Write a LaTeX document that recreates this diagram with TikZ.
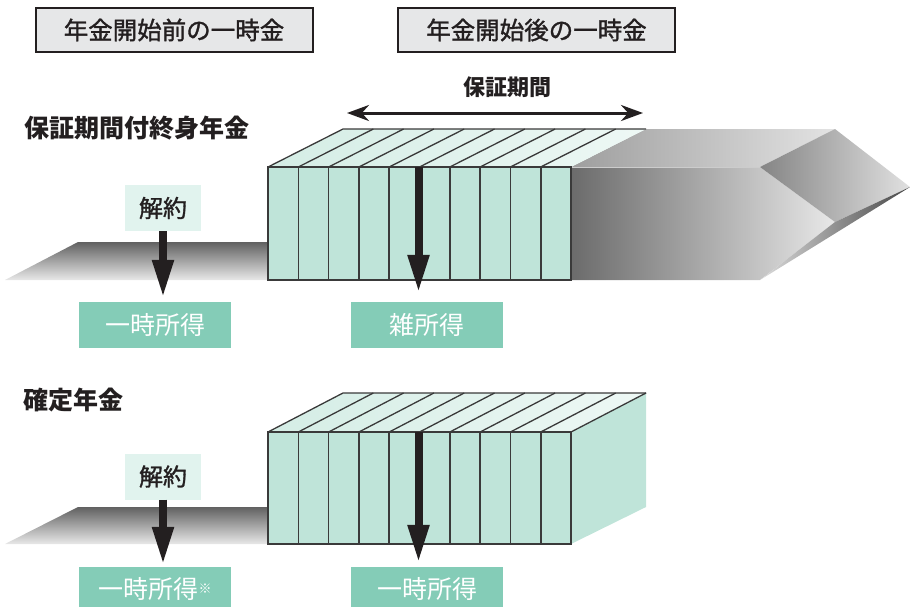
\documentclass[tikz,border=0pt]{standalone}
\usepackage{fontspec}
\setmainfont{Noto Sans CJK JP}
\newfontfamily\jpmed{Noto Sans CJK JP}[FakeBold=1.3]
\usetikzlibrary{arrows.meta}
\definecolor{mint}{HTML}{BFE4D9}
\definecolor{mintlight}{HTML}{E1F3EE}
\definecolor{minttop}{HTML}{D4EDE5}
\definecolor{minttopr}{HTML}{EEF8F5}
\definecolor{teal}{HTML}{84CCB7}
\definecolor{hdrgray}{HTML}{E6E7E8}
\definecolor{ink}{HTML}{231F20}
\definecolor{slabline}{HTML}{3A3A3A}
\tikzset{
  hdrbox/.style={draw=ink, line width=2pt, fill=hdrgray, minimum width=277pt, minimum height=44pt, inner sep=0pt, font=\jpmed\fontsize{24.5}{28}\selectfont, text=ink},
  kaibox/.style={fill=mintlight, minimum width=76pt, minimum height=46pt, inner sep=0pt, font=\jpmed\fontsize{24}{28}\selectfont, text=ink},
  incbox/.style={fill=teal, minimum width=152pt, minimum height=46pt, inner sep=0pt, font=\fontsize{25}{28}\selectfont, text=white},
  ttl/.style={anchor=west, inner sep=0pt, font=\fontsize{25}{28}\selectfont\bfseries, text=ink},
  slab/.style={draw=slabline, line width=1.6pt, fill=mint},
  topline/.style={draw=slabline, line width=1.3pt},
  bigarrow/.style={draw=ink, line width=8pt, -{Triangle[length=38pt,width=20pt]}},
  dblarrow/.style={draw=ink, line width=3pt, {Stealth[length=22pt,width=16pt]}-{Stealth[length=22pt,width=16pt]}},
}
\begin{document}
\begin{tikzpicture}[x=1pt,y=-1pt]
\useasboundingbox (0,0) rectangle (910,606);
\clip (0,0) rectangle (910,606);

% header boxes
\node[hdrbox] (h1) at (174,30) {年金開始前の一時金};
\node[hdrbox] (h2) at (536.5,30) {年金開始後の一時金};

% guarantee period
\node[inner sep=0pt, font=\fontsize{22}{26}\selectfont\bfseries, text=ink] (gp) at (507,87) {保証期間};
\coordinate (pL) at (347,113);
\coordinate (pR) at (643,113);
\draw[dblarrow] (pL) -- (pR);

% titles
\node[ttl] (t1) at (24,128) {保証期間付終身年金};
\node[ttl] (t2) at (23,400) {確定年金};

% ===== Row 1 =====
% left base
\shade[top color=black!62, bottom color=black!9] (5,280) -- (78,242) -- (268,242) -- (268,280) -- cycle;
% gray extension
\shade[left color=black!38, right color=black!11] (571,167) -- (646,129) -- (835,129) -- (760,167) -- cycle;
\shade[left color=black!58, right color=black!9] (571,167) -- (760,167) -- (835,222) -- (760,280) -- (571,280) -- cycle;
\shade[left color=black!48, right color=black!12] (760,167) -- (835,129) -- (910,187) -- (835,222) -- cycle;
\shade[left color=black!14, right color=black!72] (835,222) -- (910,187) -- (760,280) -- cycle;
\draw[white!80!black, line width=0.8pt] (571,167) -- (760,167);
% top face
\shade[left color=minttop, right color=minttopr] (268,167) -- (343,129) -- (646,129) -- (571,167) -- cycle;
\draw[topline] (268,167) -- (343,129) -- (646,129);
\foreach \i in {1,...,9} {
  \draw[topline] (268+30.3*\i,167) -- (343+30.3*\i,129);
}
% slabs
\foreach \i in {0,...,9} {
  \draw[slab] (268+30.3*\i,167) rectangle (268+30.3*\i+30.3,280);
}

% ===== Row 2 =====
\shade[top color=black!62, bottom color=black!9] (5,544) -- (78,507) -- (268,507) -- (268,544) -- cycle;
\fill[mint] (571,432) -- (646,393) -- (646,507) -- (571,544) -- cycle;
\shade[left color=minttop, right color=minttopr] (268,432) -- (343,393) -- (646,393) -- (571,432) -- cycle;
\draw[topline] (268,432) -- (343,393) -- (646,393);
\foreach \i in {1,...,10} {
  \draw[topline] (268+30.3*\i,432) -- (343+30.3*\i,393);
}
\foreach \i in {0,...,9} {
  \draw[slab] (268+30.3*\i,432) rectangle (268+30.3*\i+30.3,544);
}

% ===== boxes =====
\node[kaibox] (k1) at (163,208) {解約};
\node[incbox] (i1) at (155,325) {一時所得};
\node[incbox] (z1) at (427,325) {雑所得};

\node[kaibox] (k2) at (163,476.5) {解約};
\node[incbox, minimum height=44pt] (i2) at (155,589) {一時所得\raisebox{5pt}{\fontsize{13}{14}\selectfont ※}};
\node[incbox, minimum height=44pt] (i3) at (427,589) {一時所得};

% ===== arrows =====
\coordinate (m1) at (418.5,167);
\coordinate (m2) at (418.5,432);
\draw[bigarrow, shorten >=4pt] (k1.south) -- (i1.north -| k1.south);
\draw[bigarrow, shorten >=9pt] (m1) -- (m1 |- z1.north);
\draw[bigarrow, shorten >=2pt] (k2.south) -- (i2.north -| k2.south);
\draw[bigarrow, shorten >=4pt] (m2) -- (m2 |- i3.north);
\end{tikzpicture}
\end{document}
